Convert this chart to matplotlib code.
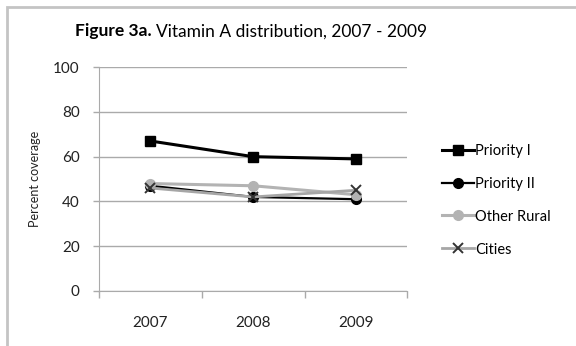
import matplotlib.pyplot as plt
from matplotlib.patches import Rectangle

years = ['2007', '2008', '2009']
priority_1 = [67, 60, 59]
priority_2 = [47, 42, 41]
other_rural = [48, 47, 43]
cities = [46, 42, 45]

plt.rcParams['font.family'] = ['Lato', 'DejaVu Sans']

fig = plt.figure(figsize=(5.76, 3.46), dpi=100)
ax = fig.add_axes([0.172, 0.159, 0.535, 0.647])

# outer chart frame
fig.patches.append(Rectangle((0.012, -0.05), 1.1, 1.03, transform=fig.transFigure,
                             fill=False, edgecolor='#c4c4c4', linewidth=2))

x = range(len(years))
ax.plot(x, priority_1, color='black', lw=2.2, marker='s', ms=7, label='Priority I')
ax.plot(x, priority_2, color='black', lw=1.6, marker='o', ms=7, label='Priority II')
ax.plot(x, other_rural, color='#b3b3b3', lw=2.2, marker='o', ms=7, label='Other Rural')
ax.plot(x, cities, color='#a6a6a6', lw=2.0, marker='x', ms=7, mew=1.4,
        mec='#333333', label='Cities')

ax.set_xlim(-0.5, 2.5)
ax.set_ylim(0, 100)
ax.set_yticks(range(0, 101, 20))
ax.set_xticks(list(x))
ax.set_xticklabels(years)
ax.set_xticks([-0.5, 0.5, 1.5, 2.5], minor=True)
ax.tick_params(axis='x', which='major', length=0, pad=18, labelsize=11, colors='#222222')
ax.tick_params(axis='x', which='minor', length=5, color='#aaaaaa', width=1)
ax.tick_params(axis='y', length=4, color='#aaaaaa', width=1, labelsize=11,
               colors='#222222', pad=10)
ax.grid(axis='y', color='#aaaaaa', lw=1)
ax.set_axisbelow(True)
for s in ['top', 'right']:
    ax.spines[s].set_visible(False)
for s in ['left', 'bottom']:
    ax.spines[s].set_color('#aaaaaa')
ax.set_ylabel('Percent coverage', fontsize=9, labelpad=9, color='#222222')

t = fig.text(0.13, 0.91, 'Figure 3a.', fontsize=12.5, fontweight='bold', va='center')
fig.canvas.draw()
bb = t.get_window_extent().transformed(fig.transFigure.inverted())
fig.text(bb.x1 + 0.008, 0.91, 'Vitamin A distribution, 2007 - 2009', fontsize=12.5, va='center')

ax.legend(loc='center left', bbox_to_anchor=(1.095, 0.406), frameon=False, fontsize=10.5,
          handlelength=2.2, handletextpad=0.05, labelspacing=1.3, borderaxespad=0)

fig.savefig('out.png', dpi=100)
